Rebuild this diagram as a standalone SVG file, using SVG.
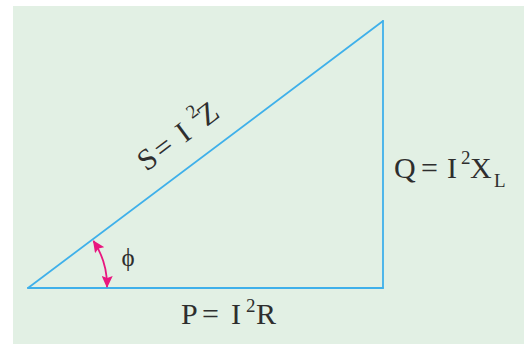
<svg xmlns="http://www.w3.org/2000/svg" width="524" height="344" viewBox="0 0 524 344">
<style>
.edge{fill:none;stroke:#3fb0ea;stroke-width:1.8;stroke-linecap:round;stroke-linejoin:round}
.lbl{font-family:"Liberation Serif","Times New Roman",serif;font-size:30px;fill:#2e2e2e}
.sup{font-size:19px}
.ang{fill:none;stroke:#e8177f;stroke-width:1.8}
</style>
<defs>
<marker id="ah" viewBox="0 0 12 11" refX="11" refY="5.5" markerWidth="12" markerHeight="11" markerUnits="userSpaceOnUse" orient="auto-start-reverse">
<path d="M0,0 L12,5.5 L0,11 L2,5.5 Z" fill="#e8177f"/>
</marker>
</defs>
<rect x="13" y="6" width="511" height="338" fill="#e2f0e4"/>
<g id="connectors">
<path id="hyp" class="edge" d="M28,288 L383,21"/>
<path id="vert" class="edge" d="M383,21 L383,288"/>
<path id="base" class="edge" d="M28,288 L383,288"/>
<path id="angle" class="ang" d="M93.5,241 A80,80 0 0 1 107,287" marker-start="url(#ah)" marker-end="url(#ah)"/>
</g>
<g id="label-S">
<text class="lbl" transform="translate(146.5,172) rotate(-36.87)"><tspan x="0" y="0">S</tspan><tspan x="20" y="0">=</tspan><tspan x="48" y="0">I</tspan><tspan class="sup" x="68" y="-15">2</tspan><tspan x="75" y="0">Z</tspan></text>
</g>
<g id="label-Q">
<text class="lbl"><tspan x="394" y="178">Q</tspan><tspan x="421" y="178">=</tspan><tspan x="447" y="178">I</tspan><tspan class="sup" x="461" y="164">2</tspan><tspan x="470" y="178">X</tspan><tspan class="sup" x="494" y="187">L</tspan></text>
</g>
<g id="label-P">
<text class="lbl"><tspan x="181" y="324">P</tspan><tspan x="202" y="324">=</tspan><tspan x="231" y="324">I</tspan><tspan class="sup" x="246" y="312">2</tspan><tspan x="256" y="324">R</tspan></text>
</g>
<g id="label-phi">
<text class="lbl" x="128" y="266" text-anchor="middle" style="font-size:25px">ϕ</text>
</g>
</svg>
